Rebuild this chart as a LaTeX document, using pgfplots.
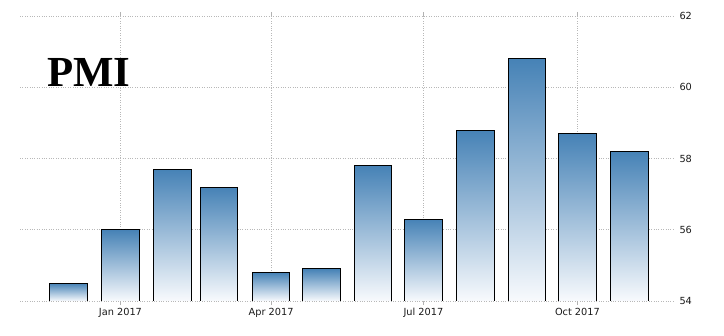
\documentclass[border=0pt]{standalone}
\usepackage{pgfplots}
\pgfplotsset{compat=1.18}
\usepackage{fontspec}
\setmainfont{DejaVu Sans}
\newfontfamily\titlefont{Liberation Serif}
\definecolor{bartop}{RGB}{70,130,182}
\definecolor{barbot}{RGB}{248,250,253}
\begin{document}
\begin{tikzpicture}
\useasboundingbox (0,0) rectangle (724bp,336bp);
\begin{axis}[
  at={(20bp,35bp)}, anchor=south west,
  scale only axis, width=655bp, height=285bp,
  xmin=-60, xmax=331.3, ymin=54, ymax=62,
  axis line style={draw=none},
  xtick={0,90,181,273},
  xticklabels={Jan 2017, Apr 2017, Jul 2017, Oct 2017},
  ytick={54,56,58,60,62},
  yticklabel pos=right,
  grid=major,
  grid style={dotted, black!28, line width=0.6pt},
  tick align=outside,
  major tick length=4bp,
  xtick style={black!30, line width=0.6pt},
  ytick style={draw=none},
  tick label style={font=\fontsize{9.8}{11}\selectfont, color=black!90},
  yticklabel style={anchor=west, xshift=-3bp},
  /pgf/number format/assume math mode=true,
  bar/.style={ybar, bar width=22.4, bar shift=0pt, draw=black, line width=1pt,
    top color=bartop, bottom color=barbot},
]
\addplot[bar] coordinates {(-31,54.5)};
\addplot[bar] coordinates {(0,56.0)};
\addplot[bar] coordinates {(31,57.7)};
\addplot[bar] coordinates {(59,57.2)};
\addplot[bar] coordinates {(90,54.8)};
\addplot[bar] coordinates {(120,54.9)};
\addplot[bar] coordinates {(151,57.8)};
\addplot[bar] coordinates {(181,56.3)};
\addplot[bar] coordinates {(212,58.8)};
\addplot[bar] coordinates {(243,60.8)};
\addplot[bar] coordinates {(273,58.7)};
\addplot[bar] coordinates {(304,58.2)};
\end{axis}
\node[anchor=base west, inner sep=0pt] at (47bp,249bp)
  {\titlefont\bfseries\fontsize{43}{43}\selectfont PMI};
\end{tikzpicture}
\end{document}
